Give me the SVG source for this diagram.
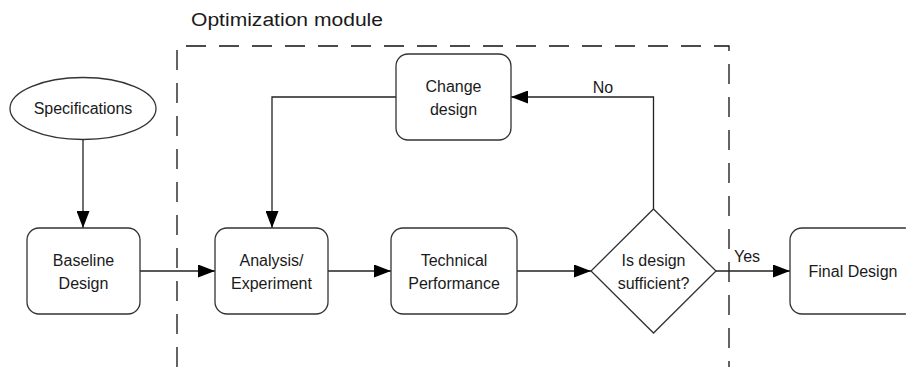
<svg xmlns="http://www.w3.org/2000/svg" width="906" height="367" viewBox="0 0 906 367">
<style>
.n{fill:#fff;stroke:#333;stroke-width:1.3}
.t{font-family:"Liberation Sans",Arial,sans-serif;font-size:16px;fill:#1a1a1a;text-anchor:middle}
.c{fill:none;stroke:#222;stroke-width:1.3}
</style>
<defs>
<marker id="ah" markerUnits="userSpaceOnUse" markerWidth="17" markerHeight="13" refX="17" refY="6.5" orient="auto">
<path d="M0,0 L17,6.5 L0,13 Z" fill="#000"/>
</marker>
</defs>
<rect width="906" height="367" fill="#fff"/>
<g id="module">
<path d="M177,367 V46 H729 V367" fill="none" stroke="#111" stroke-width="1.3" stroke-dasharray="20 13"/>
<text x="191" y="26" font-family="'Liberation Sans',Arial,sans-serif" font-size="18" fill="#1a1a1a" textLength="192" lengthAdjust="spacingAndGlyphs">Optimization module</text>
</g>
<g id="connectors">
<path class="c" d="M83,140 V228" marker-end="url(#ah)"/>
<path class="c" d="M140,271 H215" marker-end="url(#ah)"/>
<path class="c" d="M328,271 H391" marker-end="url(#ah)"/>
<path class="c" d="M517,271 H591" marker-end="url(#ah)"/>
<path class="c" d="M716,271 H790" marker-end="url(#ah)"/>
<path class="c" d="M653.5,209 V97 H511" marker-end="url(#ah)"/>
<path class="c" d="M396,97 H272 V228" marker-end="url(#ah)"/>
<text class="t" x="603" y="93">No</text>
<text class="t" x="747" y="262">Yes</text>
</g>
<g id="specifications">
<ellipse class="n" cx="83" cy="108.5" rx="73" ry="31"/>
<text class="t" x="83" y="114">Specifications</text>
</g>
<g id="baseline">
<rect class="n" x="27" y="228" width="113" height="86" rx="12"/>
<text class="t" x="83.5" y="266">Baseline</text>
<text class="t" x="83.5" y="289">Design</text>
</g>
<g id="analysis">
<rect class="n" x="215" y="228" width="113" height="86" rx="12"/>
<text class="t" x="271.5" y="266">Analysis/</text>
<text class="t" x="271.5" y="289">Experiment</text>
</g>
<g id="technical">
<rect class="n" x="391" y="228" width="126" height="86" rx="12"/>
<text class="t" x="454" y="266">Technical</text>
<text class="t" x="454" y="289">Performance</text>
</g>
<g id="decision">
<polygon class="n" points="653.5,209 716,271 653.5,333 591,271"/>
<text class="t" x="653.5" y="266">Is design</text>
<text class="t" x="653.5" y="289">sufficient?</text>
</g>
<g id="change">
<rect class="n" x="396" y="54" width="115" height="86" rx="12"/>
<text class="t" x="453.5" y="92">Change</text>
<text class="t" x="453.5" y="115">design</text>
</g>
<g id="final">
<rect class="n" x="790" y="228" width="127" height="86" rx="12"/>
<text class="t" x="853" y="277">Final Design</text>
</g>
</svg>
